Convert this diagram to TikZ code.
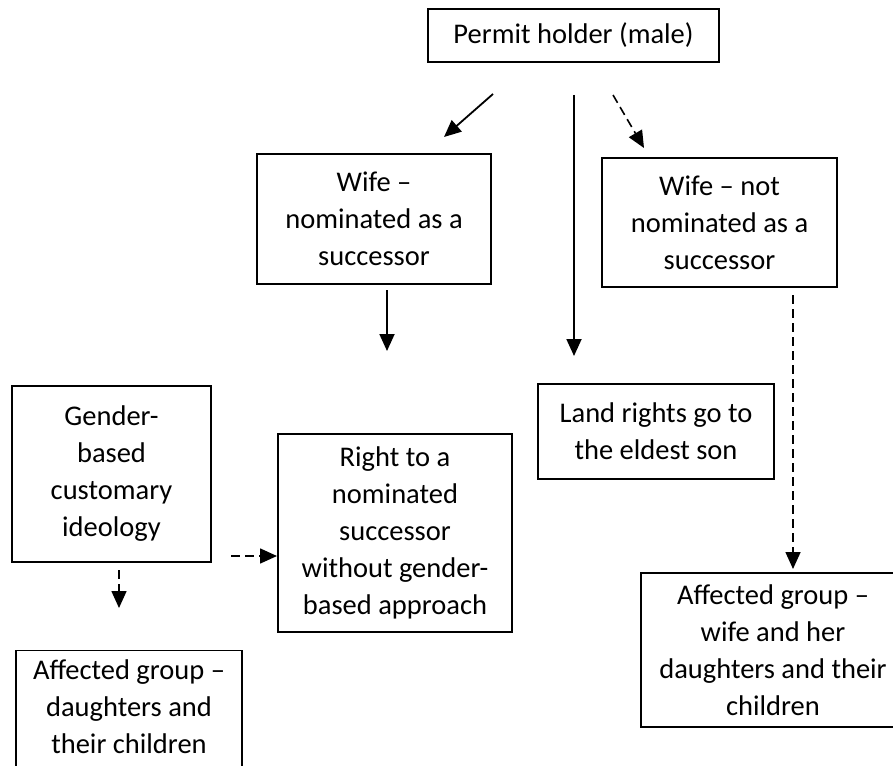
\documentclass[tikz,border=0pt]{standalone}
\usepackage{fontspec}
\setmainfont{Carlito}
\usetikzlibrary{arrows.meta}
\tikzset{box/.style={draw=black,line width=1.3pt,align=center,inner sep=0pt,
  font=\fontsize{28.5}{37}\selectfont},
 arrow/.style={-{Triangle[length=17pt,width=15pt]},line width=1.8pt},
 darrow/.style={arrow,line width=1.6pt,dash pattern=on 9pt off 5pt}}

\begin{document}
\begin{tikzpicture}[x=1pt,y=-1pt]
 \clip (0,0) rectangle (893,765);
 \fill[white] (0,0) rectangle (893,765);
 % boxes
 \node[box,minimum width=291,minimum height=53] (holder) at (573.5,35.5) {Permit holder (male)};
 \node[box,minimum width=234,minimum height=130] (wifenom) at (374,219) {Wife --\\nominated as a\\successor};
 \node[box,minimum width=235,minimum height=129] (wifenot) at (719.5,222.5) {Wife -- not\\nominated as a\\successor};
 \node[box,minimum width=236,minimum height=95] (eldest) at (656,431.5) {Land rights go to\\the eldest son};
 \node[box,minimum width=199,minimum height=176] (gender) at (111.5,474) {Gender-\\based\\customary\\ideology};
 \node[box,minimum width=234,minimum height=198] (right) at (395,533) {Right to a\\nominated\\successor\\without gender-\\based approach};
 \node[box,minimum width=264,minimum height=154] (affwife) at (773,650) {Affected group --\\wife and her\\daughters and their\\children};
 \node[box,minimum width=226,minimum height=160,anchor=north] (affdau) at (129,650) {Affected group --\\daughters and\\their children\\ \strut};
 % arrow ends
 \coordinate (h1) at (493,94);  \coordinate (n1) at (444,137);
 \coordinate (h2) at (574,95);  \coordinate (e1) at (574,356);
 \coordinate (h3) at (613,95);  \coordinate (t1) at (644,148);
 \coordinate (n2) at (387,290); \coordinate (r1) at (387,351);
 \coordinate (t2) at (793,295); \coordinate (a1) at (793,569);
 \coordinate (g1) at (231,556); \coordinate (r2) at (277,556);
 \coordinate (g2) at (119,570); \coordinate (d1) at (119,608);
 % connectors
 \draw[arrow] (h1) -- (n1);
 \draw[arrow] (h2) -- (e1);
 \draw[darrow] (h3) -- (t1);
 \draw[arrow] (n2) -- (r1);
 \draw[darrow] (t2) -- (a1);
 \draw[darrow] (g1) -- (r2);
 \draw[darrow] (g2) -- (d1);
\end{tikzpicture}
\end{document}
